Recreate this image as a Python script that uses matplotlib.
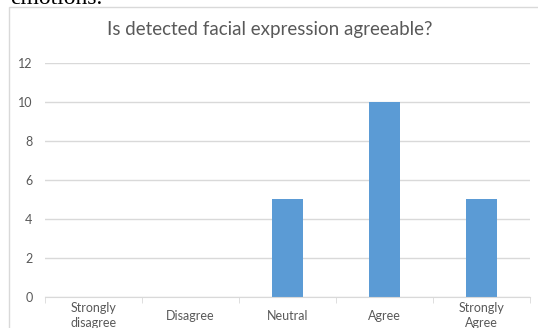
import matplotlib.pyplot as plt
from matplotlib.patches import Rectangle
from matplotlib.ticker import FixedLocator

categories = ['Strongly\ndisagree', 'Disagree', 'Neutral', 'Agree', 'Strongly\nAgree']
responses = [0, 0, 5, 10, 5]
yticks = [0, 2, 4, 6, 8, 10, 12]

grey_text = '#595959'
grid_col = '#d9d9d9'

fig = plt.figure(figsize=(5.38, 3.28), dpi=100)

# chart frame, runs off the right and bottom edge
fig.patches.append(Rectangle((9 / 538, -0.2), 1.0, 1.2 - 7 / 328,
                             transform=fig.transFigure, fill=False,
                             edgecolor=grid_col, linewidth=1.0))

# caption line from the surrounding page, cut at the top
fig.text(10 / 538, 1 - 4 / 328, 'emotions.', family='Liberation Serif',
         fontsize=17, color='black', va='baseline', ha='left')

ax = fig.add_axes([45 / 538, 1 - 296.5 / 328, (530 - 45) / 538, (296.5 - 63) / 328])
x = list(range(len(categories)))
ax.bar(x, responses, width=0.31, color='#5b9bd5', zorder=3)

ax.set_xlim(-0.5, len(categories) - 0.5)
ax.set_ylim(0, 12)
ax.set_yticks(yticks)
ax.yaxis.grid(True, color=grid_col, linewidth=1.0)
ax.set_axisbelow(True)

for s in ['top', 'right', 'left']:
    ax.spines[s].set_visible(False)
ax.spines['bottom'].set_color(grid_col)
ax.spines['bottom'].set_zorder(4)

ax.set_xticks(x)
ax.set_xticklabels(categories, family='Lato', fontsize=9, color=grey_text,
                   va='center', linespacing=1.3)
ax.xaxis.set_minor_locator(FixedLocator([i - 0.5 for i in range(len(categories) + 1)]))
ax.tick_params(axis='x', which='major', length=0, pad=14)
ax.tick_params(axis='x', which='minor', length=4, color=grid_col)
ax.tick_params(axis='y', length=0, pad=9, labelcolor=grey_text, labelsize=9)
for lab in ax.get_yticklabels():
    lab.set_family('Lato')

fig.text(269.5 / 538, 1 - 30 / 328, 'Is detected facial expression agreeable?',
         family='Lato', fontsize=13.5, color=grey_text, ha='center', va='center')

fig.savefig('out.png', dpi=100)
